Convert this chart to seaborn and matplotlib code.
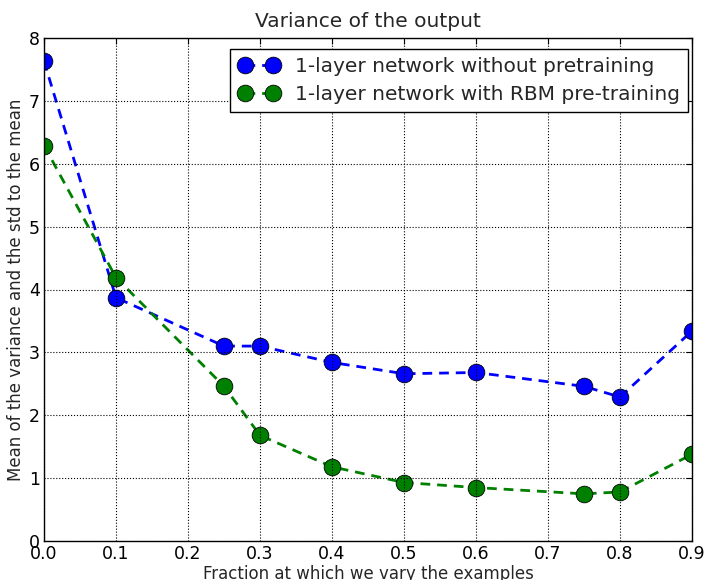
import matplotlib
matplotlib.use("Agg")
import matplotlib.pyplot as plt
from matplotlib.patches import Rectangle
import seaborn as sns
import pandas as pd

fractions = [0.0, 0.1, 0.25, 0.3, 0.4, 0.5, 0.6, 0.75, 0.8, 0.9]
no_pretrain = [7.63, 3.87, 3.10, 3.10, 2.84, 2.66, 2.68, 2.46, 2.29, 3.34]
rbm_pretrain = [6.29, 4.19, 2.46, 1.68, 1.18, 0.93, 0.85, 0.75, 0.78, 1.38]
labels = ["1-layer network without pretraining", "1-layer network with RBM pre-training"]
colors = ["#0000ff", "#008000"]

sns.set_style("white")
plt.rcParams['font.family'] = ['DejaVu Sans']

fig = plt.figure(figsize=(7.05, 5.8), dpi=100)
ax = fig.add_axes([44/705, 39/580, (692-44)/705, (541-38)/580])

for vals, lab, col in zip([no_pretrain, rbm_pretrain], labels, colors):
    df = pd.DataFrame({"x": fractions, "y": vals})
    sns.lineplot(data=df, x="x", y="y", ax=ax, color=col, marker="o",
                 markersize=12, markeredgecolor="black", markeredgewidth=0.6,
                 linewidth=2, label=lab)
for line in ax.get_lines():
    line.set_dashes((3.5, 2.5))

# the renderer does not clip markers at the frame: hide the overflow
for x0 in (-0.03, 1.0):
    ax.add_patch(Rectangle((x0, -0.02), 0.03, 1.04, transform=ax.transAxes,
                           facecolor="white", edgecolor="none",
                           clip_on=False, zorder=2.1))
ax.set_axisbelow(False)

ax.set_xlim(0, 0.9)
ax.set_ylim(0, 8)
ax.set_xticks([0.0, 0.1, 0.2, 0.3, 0.4, 0.5, 0.6, 0.7, 0.8, 0.9])
ax.set_yticks(range(0, 9))
ax.set_xticklabels([f"{v:.1f}" for v in ax.get_xticks()])
ax.tick_params(direction="in", length=4, width=0.8, top=True, right=True,
               labelsize=12.5, colors="black", pad=3)
ax.grid(True, linestyle=":", color="black", linewidth=0.8)
for s in ax.spines.values():
    s.set_color("black")
    s.set_linewidth(1)
    s.set_zorder(3)
ax.set_title("Variance of the output", fontsize=14.5, pad=8)
ax.set_xlabel("Fraction at which we vary the examples", fontsize=12, labelpad=1)
ax.set_ylabel("Mean of the variance and the std to the mean", fontsize=12, labelpad=3)

leg = ax.legend(loc="upper right", bbox_to_anchor=(0.9938, 0.978),
                numpoints=2, fontsize=14.5, frameon=True,
                fancybox=False, framealpha=1, edgecolor="black",
                borderaxespad=0, handlelength=2.0, borderpad=0.4,
                labelspacing=0.45)
leg.get_frame().set_linewidth(1)
leg.set_zorder(5)
for h in leg.get_lines():
    h.set_dashes((3.5, 2.5))

fig.savefig("out.png", dpi=100)
